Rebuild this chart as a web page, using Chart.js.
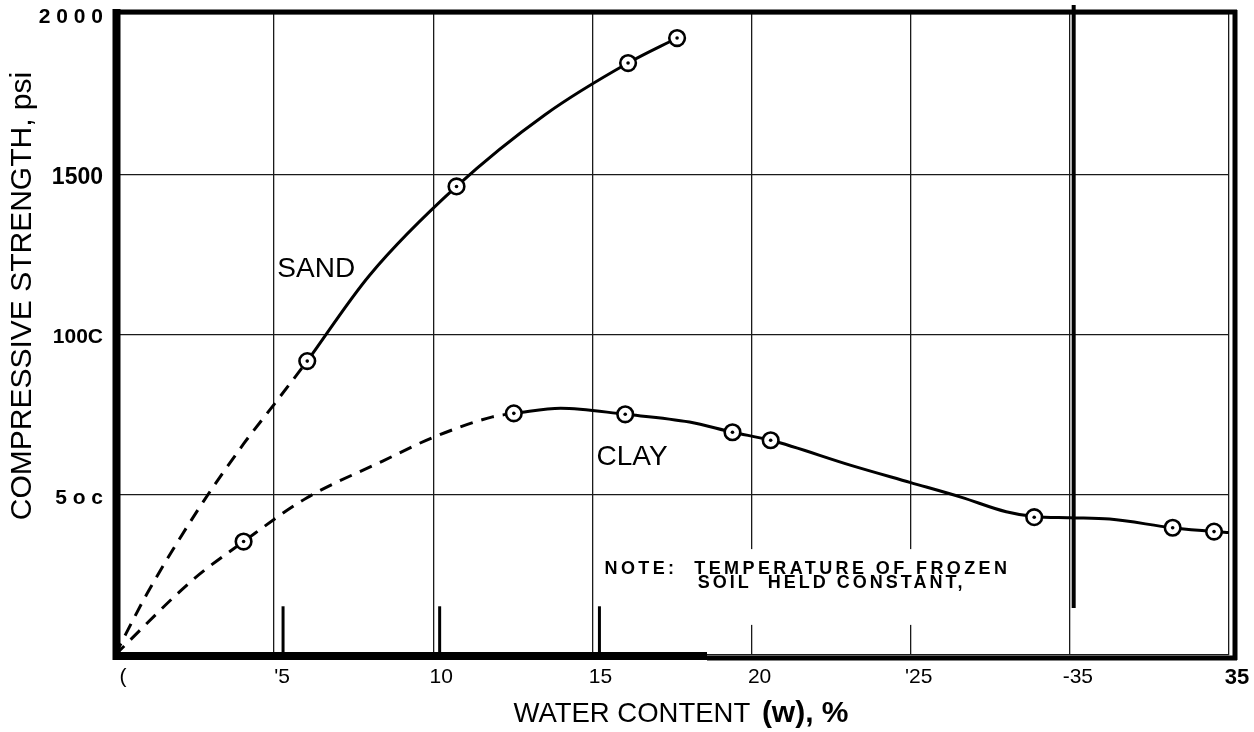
<!DOCTYPE html>
<html>
<head>
<meta charset="utf-8">
<script src="https://cdn.jsdelivr.net/npm/chart.js@4.4.1/dist/chart.umd.min.js"></script>
<style>
  html, body { margin: 0; padding: 0; background: #fff; }
  #chart { display: block; }
</style>
</head>
<body>
<canvas id="chart" width="1254" height="732"></canvas>
<script>
// sand: dashed run-in from the origin, then the solid fitted curve
const sandDashX = [0, 1.0, 2.6, 4.05, 5.0, 6.04];
const sandDashY = [0, 190, 452, 660, 782, 917];
const sandLineX = [6.04, 8.0, 10.73, 13.5, 16.12, 17.66];
const sandLineY = [917, 1185, 1462, 1685, 1847, 1925];

// clay: same idea
const clayDashX = [0, 2.44, 4.04, 6.02, 8.41, 9.95, 11.86, 12.53];
const clayDashY = [0, 234, 354, 490, 605, 677, 743, 754];
const clayLineX = [12.53, 14.0, 16.03, 18.05, 19.4, 20.6, 23.15, 25.0, 26.6, 28.0, 28.88, 30.0, 31.25, 33.23, 34.53, 35.0];
const clayLineY = [754, 770, 751, 727, 695, 670, 591, 538, 492, 447, 432, 428, 424, 397, 385, 382];

// test results (circled points)
const sandPtsX = [6.04, 10.73, 16.12, 17.66];
const sandPtsY = [917, 1462, 1847, 1925];
const clayPtsX = [4.04, 12.53, 16.03, 19.4, 20.6, 28.88, 33.23, 34.53];
const clayPtsY = [354, 754, 751, 695, 670, 430, 397, 385];

// tick labels as printed
const xTickText = ['(', "'5", '10', '15', '20', "'25", '-35', '35'];
const yTickText = ['', '5 o c', '100C', '1500', '2 0 0 0'];

// curve names and the note
const curveNames = ['SAND', 'CLAY'];
const curveNameX = [5.1, 15.13];
const curveNameY = [1204, 618];
const noteText = ['NOTE:  TEMPERATURE OF FROZEN', 'SOIL  HELD CONSTANT,'];
const noteX = [15.38, 18.31];
const noteY = [268, 225];

// stray marks on the sheet
const stubX = [5.28, 10.2, 15.22];
const stubTop = 152;
const heavyLineX = 30.12;
const heavyLineBottom = 147;

const FONT = "'Liberation Sans', Arial, Helvetica, sans-serif";
const pts = (xs, ys) => xs.map((x, i) => ({ x, y: ys[i] }));

const curve = (xs, ys, dashed) => ({
    type: 'line',
    data: pts(xs, ys),
    borderColor: '#000',
    borderWidth: 3,
    borderDash: dashed ? [13, 9] : [],
    pointRadius: 0,
    cubicInterpolationMode: 'monotone',
    fill: false,
    order: 2
});

const rings = (xs, ys) => ({
    type: 'scatter',
    data: pts(xs, ys),
    pointRadius: 7.8,
    pointBorderWidth: 2.6,
    pointBorderColor: '#000',
    pointBackgroundColor: '#fff',
    order: 1
});

const dots = (xs, ys) => ({
    type: 'scatter',
    data: pts(xs, ys),
    pointRadius: 1.8,
    pointBorderWidth: 0,
    pointBackgroundColor: '#000',
    order: 0
});

const sheetMarks = {
    id: 'sheetMarks',
    beforeDatasetsDraw(chart) {
        const { ctx, chartArea: a, scales: { x, y } } = chart;
        ctx.save();

        // blank patch under the note (breaks the 20 and 25 grid lines)
        ctx.font = `bold 18px ${FONT}`;
        ctx.letterSpacing = '3.4px';
        const w = ctx.measureText(noteText[0]).width;
        const nx = x.getPixelForValue(noteX[0]);
        const ny = y.getPixelForValue(noteY[0]);
        ctx.fillStyle = '#fff';
        ctx.fillRect(nx - 5, ny - 20, w + 20, y.getPixelForValue(noteY[1]) - ny + 62);

        ctx.strokeStyle = '#000';
        ctx.lineCap = 'butt';

        // short stubs near the axis
        ctx.lineWidth = 3;
        stubX.forEach(v => {
            const px = x.getPixelForValue(v);
            ctx.beginPath();
            ctx.moveTo(px, y.getPixelForValue(stubTop));
            ctx.lineTo(px, a.bottom);
            ctx.stroke();
        });

        // heavy vertical next to the 30 line
        ctx.lineWidth = 4;
        const hx = x.getPixelForValue(heavyLineX);
        ctx.beginPath();
        ctx.moveTo(hx, a.top - 9);
        ctx.lineTo(hx, y.getPixelForValue(heavyLineBottom));
        ctx.stroke();

        // frame
        ctx.lineWidth = 8;
        ctx.beginPath();
        ctx.moveTo(a.left + 1.5, a.top - 5);
        ctx.lineTo(a.left + 1.5, a.bottom + 5);
        ctx.stroke();
        const split = x.getPixelForValue(18.6);
        ctx.beginPath();
        ctx.moveTo(a.left - 2, a.bottom + 1);
        ctx.lineTo(split, a.bottom + 1);
        ctx.stroke();
        ctx.lineWidth = 5;
        ctx.beginPath();
        ctx.moveTo(split, a.bottom + 3);
        ctx.lineTo(a.right + 8, a.bottom + 3);
        ctx.stroke();
        ctx.beginPath();
        ctx.moveTo(a.left, a.top - 2);
        ctx.lineTo(a.right + 8, a.top - 2);
        ctx.stroke();
        ctx.beginPath();
        ctx.moveTo(a.right + 6, a.top - 4);
        ctx.lineTo(a.right + 6, a.bottom + 5);
        ctx.stroke();
        ctx.restore();
    },
    afterDatasetsDraw(chart) {
        const { ctx, scales: { x, y } } = chart;
        ctx.save();
        ctx.fillStyle = '#000';
        ctx.textBaseline = 'middle';
        ctx.textAlign = 'left';

        ctx.font = `28px ${FONT}`;
        curveNames.forEach((t, i) => {
            ctx.fillText(t, x.getPixelForValue(curveNameX[i]), y.getPixelForValue(curveNameY[i]));
        });

        ctx.font = `bold 18px ${FONT}`;
        noteText.forEach((t, i) => {
            ctx.letterSpacing = i === 0 ? '3.4px' : '3px';
            ctx.fillText(t, x.getPixelForValue(noteX[i]), y.getPixelForValue(noteY[i]));
        });
        ctx.restore();
    },
    afterDraw(chart) {
        // axis titles, set by hand so they sit where the sheet has them
        const { ctx } = chart;
        ctx.save();
        ctx.fillStyle = '#000';
        ctx.textBaseline = 'alphabetic';

        const main = 'WATER CONTENT ';
        const tail = '(w), %';
        ctx.font = `27.5px ${FONT}`;
        const mw = ctx.measureText(main).width;
        ctx.font = `bold 30px ${FONT}`;
        const tw = ctx.measureText(tail).width;
        const left = 679 - (mw + tw) / 2;
        ctx.textAlign = 'left';
        ctx.font = `27.5px ${FONT}`;
        ctx.fillText(main, left, 722);
        ctx.font = `bold 30px ${FONT}`;
        ctx.fillText(tail, left + mw + 4, 722);

        ctx.translate(31, 296);
        ctx.rotate(-Math.PI / 2);
        ctx.textAlign = 'center';
        ctx.font = `30px ${FONT}`;
        ctx.fillText('COMPRESSIVE STRENGTH, psi', 0, 0);
        ctx.restore();
    }
};

new Chart(document.getElementById('chart'), {
    data: {
        datasets: [
            curve(sandDashX, sandDashY, true),
            curve(sandLineX, sandLineY, false),
            curve(clayDashX, clayDashY, true),
            curve(clayLineX, clayLineY, false),
            rings(sandPtsX, sandPtsY),
            rings(clayPtsX, clayPtsY),
            dots(sandPtsX, sandPtsY),
            dots(clayPtsX, clayPtsY)
        ]
    },
    options: {
        responsive: false,
        animation: false,
        devicePixelRatio: 1,
        layout: { padding: { top: 14, right: 25, left: 0, bottom: 0 } },
        plugins: {
            legend: { display: false },
            tooltip: { enabled: false }
        },
        scales: {
            x: {
                type: 'linear',
                min: 0, max: 35,
                grid: { color: '#1a1a1a', lineWidth: 1.3, drawTicks: false },
                border: { display: false },
                ticks: {
                    stepSize: 5,
                    padding: 10,
                    labelOffset: 8,
                    color: '#000',
                    maxRotation: 0,
                    font: c => ({ family: FONT, size: c.tick && c.tick.value === 35 ? 22 : 21, weight: c.tick && c.tick.value === 35 ? 'bold' : 'normal' }),
                    callback: v => xTickText[v / 5] ?? ''
                },
                title: { display: false },
                afterFit: s => { s.height = 77; }
            },
            y: {
                min: 0, max: 2000,
                grid: { color: '#1a1a1a', lineWidth: 1.3, drawTicks: false },
                border: { display: false },
                ticks: {
                    stepSize: 500,
                    padding: 12,
                    labelOffset: 3,
                    color: '#000',
                    font: c => ({ family: FONT, size: c.tick && c.tick.value === 1500 ? 23 : 21, weight: 'bold' }),
                    callback: v => yTickText[v / 500] ?? ''
                },
                title: { display: false },
                afterFit: s => {
                    s.width = 115;
                    s.paddingTop = 0;
                    s.paddingBottom = 0;
                }
            }
        }
    },
    plugins: [sheetMarks]
});
</script>
</body>
</html>
